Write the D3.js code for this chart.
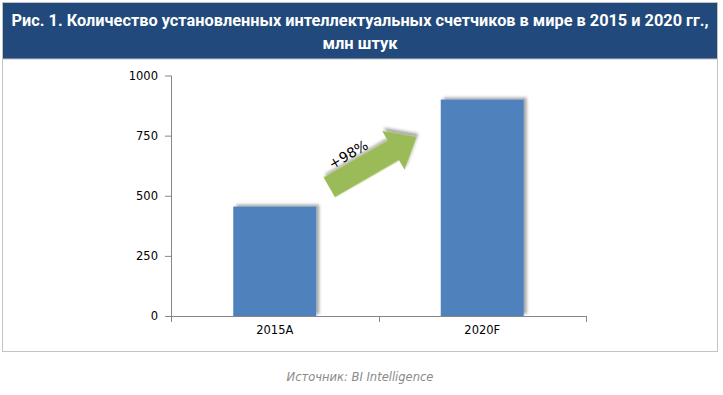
<!DOCTYPE html>
<html>
<head>
<meta charset="utf-8">
<script src="https://cdn.jsdelivr.net/npm/d3@7"></script>
<style>
  body { margin: 0; background: #fff; }
  svg { display: block; }
</style>
</head>
<body>
<svg id="chart" width="723" height="395"></svg>
<script>
// data
const categories = ['2015A', '2020F'];
const values = [455, 900];
const yTicks = [0, 250, 500, 750, 1000];
const titleLines = ['Рис. 1. Количество установленных интеллектуальных счетчиков в мире в 2015 и 2020 гг.,', 'млн штук'];
const sourceText = 'Источник: BI Intelligence';

const svg = d3.select('#chart');
const plot = {left: 171, right: 586, top: 75.5, bottom: 316};

// shadow filter
const defs = svg.append('defs');
const f = defs.append('filter').attr('id', 'shadow')
    .attr('x', '-20%').attr('y', '-20%').attr('width', '140%').attr('height', '140%');
f.append('feDropShadow').attr('dx', 3).attr('dy', -2).attr('stdDeviation', 1.8)
    .attr('flood-color', '#000').attr('flood-opacity', 0.35);

// frame + header
svg.append('rect').attr('x', 2.5).attr('y', 2.5).attr('width', 715).attr('height', 349)
    .attr('fill', '#fff').attr('stroke', '#c3c3c3');
svg.append('rect').attr('x', 2.5).attr('y', 2.5).attr('width', 715).attr('height', 56.5)
    .attr('fill', '#21497b').attr('stroke', '#c3c3c3');

svg.selectAll('text.title').data(titleLines).join('text')
    .attr('class', 'title')
    .attr('x', 360).attr('y', (d, i) => 26 + i * 23)
    .attr('text-anchor', 'middle')
    .attr('fill', '#fff')
    .style('font-family', '"Liberation Sans Narrow", "Arial Narrow", "Roboto", sans-serif')
    .style('font-weight', 'bold').style('font-size', '16.5px')
    .attr('textLength', (d, i) => i === 0 ? 697 : null)
    .attr('lengthAdjust', 'spacingAndGlyphs')
    .text(d => d);

// scales
const x = d3.scaleBand().domain(categories).range([plot.left, plot.right]);
const y = d3.scaleLinear().domain([0, 1000]).range([plot.bottom, plot.top]);
const barW = x.bandwidth() * 0.4;

// bars
svg.selectAll('rect.bar').data(categories).join('rect')
    .attr('class', 'bar')
    .attr('x', d => x(d) + (x.bandwidth() - barW) / 2)
    .attr('y', (d, i) => y(values[i]))
    .attr('width', barW)
    .attr('height', (d, i) => y(0) - y(values[i]))
    .attr('fill', '#4f81bd')
    .attr('filter', 'url(#shadow)');

// axes
const axisColor = '#868686';
const font = '"DejaVu Sans", Verdana, sans-serif';
const yAxis = svg.append('g').attr('transform', `translate(${plot.left},0)`)
    .call(d3.axisLeft(y).tickValues(yTicks).tickFormat(d3.format('d')).tickSize(6).tickPadding(7));
const xAxis = svg.append('g').attr('transform', `translate(0,${plot.bottom})`)
    .call(d3.axisBottom(x).tickSize(0).tickPadding(10));
[yAxis, xAxis].forEach(g => {
    g.attr('font-family', null).attr('font-size', null);
    g.select('.domain').attr('stroke', axisColor);
    g.selectAll('line').attr('stroke', axisColor);
    g.selectAll('text').attr('fill', '#000').style('font-family', font).style('font-size', '11.5px');
});
yAxis.select('.domain').attr('d', `M0.5,${plot.top}V${plot.bottom}`);
xAxis.select('.domain').attr('d', `M${plot.left},0.5H${plot.right}`);
// category boundary ticks
xAxis.selectAll('line.sep').data([plot.left, x(categories[1]), plot.right]).join('line')
    .attr('class', 'sep')
    .attr('x1', d => Math.round(d) + 0.5).attr('x2', d => Math.round(d) + 0.5)
    .attr('y1', 0).attr('y2', 6)
    .attr('stroke', axisColor);

// growth arrow
const growth = Math.round((values[1] / values[0] - 1) * 100);
const tail = [x(categories[0]) + x.bandwidth() / 2 + barW / 2 + 13, y(535)];
const tip = [x(categories[1]) + (x.bandwidth() - barW) / 2 - 24, y(745)];
const ang = Math.atan2(tip[1] - tail[1], tip[0] - tail[0]) * 180 / Math.PI;
const len = Math.hypot(tip[0] - tail[0], tip[1] - tail[1]);
const shaftH = 11.5, headH = 22.5, headL = 27;
const arrow = svg.append('g').attr('transform', `translate(${tail[0]},${tail[1]}) rotate(${ang})`);
arrow.append('path')
    .attr('d', `M0,${-shaftH}H${len - headL}V${-headH}L${len},0L${len - headL},${headH}V${shaftH}H0Z`)
    .attr('fill', '#9bbb59')
    .attr('filter', 'url(#shadow)');
arrow.append('text')
    .attr('x', 33).attr('y', -14)
    .attr('text-anchor', 'middle')
    .style('font-family', font).style('font-size', '14px')
    .attr('fill', '#000')
    .text('+' + growth + '%');

// source
svg.append('text').attr('x', 360).attr('y', 381)
    .attr('text-anchor', 'middle')
    .style('font-family', font).style('font-style', 'italic').style('font-size', '11.5px')
    .attr('fill', '#8a8a8a')
    .text(sourceText);
</script>
</body>
</html>
